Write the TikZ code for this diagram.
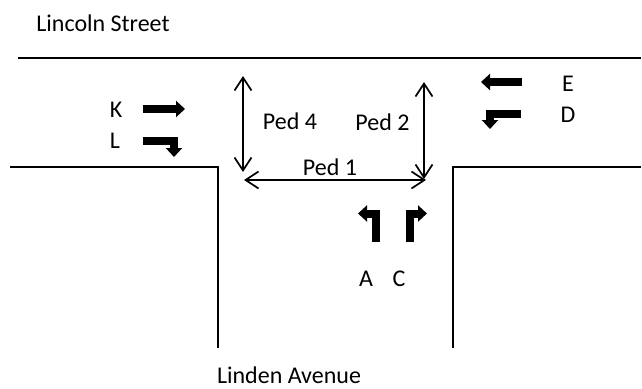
\documentclass[tikz,border=0pt]{standalone}
\usepackage{fontspec}
\setmainfont{Carlito}
\usetikzlibrary{arrows.meta}

\begin{document}
\begin{tikzpicture}[x=1pt,y=-1pt,semithick]
	\tikzstyle{every node}=[font=\fontsize{24}{26}\selectfont,inner sep=0pt]
	\tikzstyle{curb}=[line width=1.6pt]
	\tikzstyle{ped}=[<->,>={Straight Barb[length=13pt,width=17pt,line width=1.7pt]},line width=1.7pt]
	\tikzstyle{lane}=[-{Triangle[length=9pt,width=16pt]},line width=8pt]
	\useasboundingbox (0,0) rectangle (642,388);

	\node (lincoln) at (103,23) {Lincoln Street};
	\node (linden) at (289,375) {Linden Avenue};
	\node (k) at (116,110) {K};
	\node (l) at (115,141) {L};
	\node (e) at (568,84) {E};
	\node (d) at (568,115) {D};
	\node (a) at (366,279) {A};
	\node (c) at (399,279) {C};
	\node (ped4) at (290,121) {Ped 4};
	\node (ped2) at (382.5,122) {Ped 2};
	\node (ped1) at (330,167) {Ped 1};

	\coordinate (p4t) at (243,76);
	\coordinate (p4b) at (243,172);
	\coordinate (p2t) at (424,82);
	\coordinate (p2b) at (424,179);
	\coordinate (p1l) at (244,180);
	\coordinate (p1r) at (426,180);

	% road edges
	\draw[curb] (18,58) -- (641,58);
	\draw[curb] (10,167) -- (218,167) -- (218,348);
	\draw[curb] (453,348) -- (453,167) -- (641,167);

	\draw[ped] (p4t) -- (p4b);
	\draw[ped] (p2t) -- (p2b);
	\draw[ped] (p1l) -- (p1r);

	% lane arrows
	\draw[lane] (143,109) -- (185,109);
	\draw[lane] (143,140.5) -- (174,140.5) -- (174,157);
	\draw[lane] (522,82) -- (481,82);
	\draw[lane] (521,114) -- (490,114) -- (490,129);
	\draw[lane] (375.5,242) -- (375.5,213.5) -- (358,213.5);
	\draw[lane] (409.5,242) -- (409.5,213.5) -- (427,213.5);
\end{tikzpicture}
\end{document}
